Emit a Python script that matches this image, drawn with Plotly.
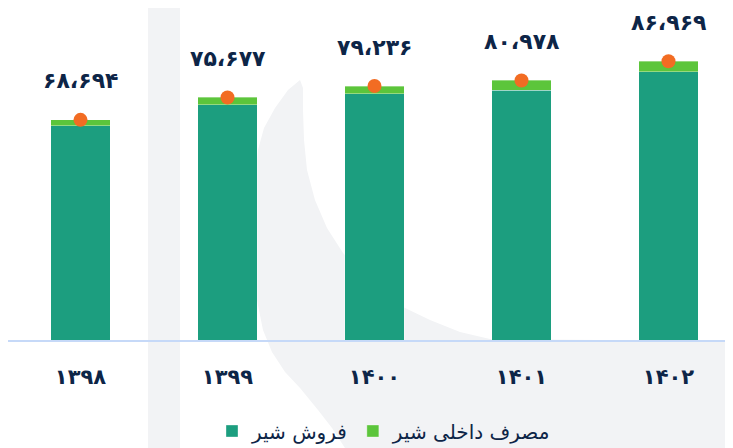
import plotly.graph_objects as go

years = ["۱۳۹۸", "۱۳۹۹", "۱۴۰۰", "۱۴۰۱", "۱۴۰۲"]
totals = [68694, 75677, 79236, 80978, 86969]
total_labels = ["۶۸،۶۹۴", "۷۵،۶۷۷", "۷۹،۲۳۶", "۸۰،۹۷۸", "۸۶،۹۶۹"]
sales = [66800, 73400, 76900, 77900, 83700]
domestic = [1894, 2277, 2336, 3078, 3269]

name_sales = "فروش شیر"
name_domestic = "مصرف داخلی شیر"

DARK = "#1c9e7f"
LIGHT = "#5cc53b"
ORANGE = "#f26c23"
NAVY = "#0d2547"
GRAY = "#f2f3f5"
FONT = "DejaVu Sans"

# page has an 8px body margin; figure fills the rest of the 733x448 window
OFF = 8
W, H = 733 - OFF, 448 - OFF
ML, MR, MT, MB = 0, 0, 0, 108
PW = W - ML - MR
PH = H - MT - MB


def px(X, Y):
    x, y = X - OFF, Y - OFF
    return (x - ML) / PW, (H - MB - y) / PH


def path(points):
    s = ""
    for i, (x, y) in enumerate(points):
        u, v = px(x, y)
        s += ("M" if i == 0 else "L") + f"{u:.4f},{v:.4f} "
    return s + "Z"


crescent = [
    (300, 80), (288, 90), (275, 108), (264, 128), (258, 150), (255, 180),
    (255, 250), (257, 300), (263, 330), (272, 352), (285, 372), (300, 388),
    (318, 410), (332, 428), (345, 448), (740, 448), (740, 341),
    (490, 339), (460, 332), (430, 320), (403, 307), (380, 292), (360, 272),
    (343, 253), (327, 228), (315, 200), (307, 170), (304, 140), (303, 110),
    (303, 88),
]
band = [(148, 0), (180, 0), (180, 448), (148, 448)]

fig = go.Figure()
fig.add_trace(go.Bar(
    x=years, y=sales, name=name_sales, marker_color=DARK,
    marker_line=dict(color="rgba(255,255,255,0.35)", width=1),
))
fig.add_trace(go.Bar(
    x=years, y=domestic, name=name_domestic, marker_color=LIGHT,
    marker_line=dict(color="rgba(255,255,255,0.35)", width=1),
))
fig.add_trace(go.Scatter(
    x=years, y=totals, mode="markers", showlegend=False,
    marker=dict(color=ORANGE, size=14, line=dict(width=0)),
    hoverinfo="skip",
))

for yr, t, lab in zip(years, totals, total_labels):
    fig.add_annotation(
        x=yr, y=t, text=f"<b>{lab}</b>", showarrow=False, yshift=39,
        font=dict(family=FONT, size=22, color=NAVY),
    )

fig.update_layout(
    width=W, height=H,
    margin=dict(l=ML, r=MR, t=MT, b=MB, autoexpand=False),
    barmode="stack", bargap=0.598,
    paper_bgcolor="white", plot_bgcolor="rgba(0,0,0,0)",
    font=dict(family=FONT, color=NAVY),
    showlegend=True,
    legend=dict(
        orientation="h", x=(384 - OFF) / PW, xanchor="center",
        yref="container", y=(H - (431 - OFF)) / H, yanchor="middle",
        font=dict(family=FONT, size=20, color=NAVY),
        bgcolor="rgba(0,0,0,0)", traceorder="normal", itemwidth=30,
    ),
    xaxis=dict(
        type="category", range=[-72.5 / 147, -72.5 / 147 + PW / 147],
        showgrid=False, showline=True, linecolor="#c6d9f8", linewidth=2,
        ticks="", ticklabelstandoff=17, automargin=False,
        tickvals=years, ticktext=[f"<b>{y}</b>" for y in years],
        tickfont=dict(family=FONT, size=21, color=NAVY),
    ),
    yaxis=dict(range=[0, (340 - OFF) / 0.003205], visible=False, showgrid=False),
    shapes=[
        dict(type="path", path=path(band), xref="paper", yref="paper",
             fillcolor=GRAY, line=dict(width=0), layer="below"),
        dict(type="path", path=path(crescent), xref="paper", yref="paper",
             fillcolor=GRAY, line=dict(width=0), layer="below"),
    ],
)

fig.write_html("out.html")
